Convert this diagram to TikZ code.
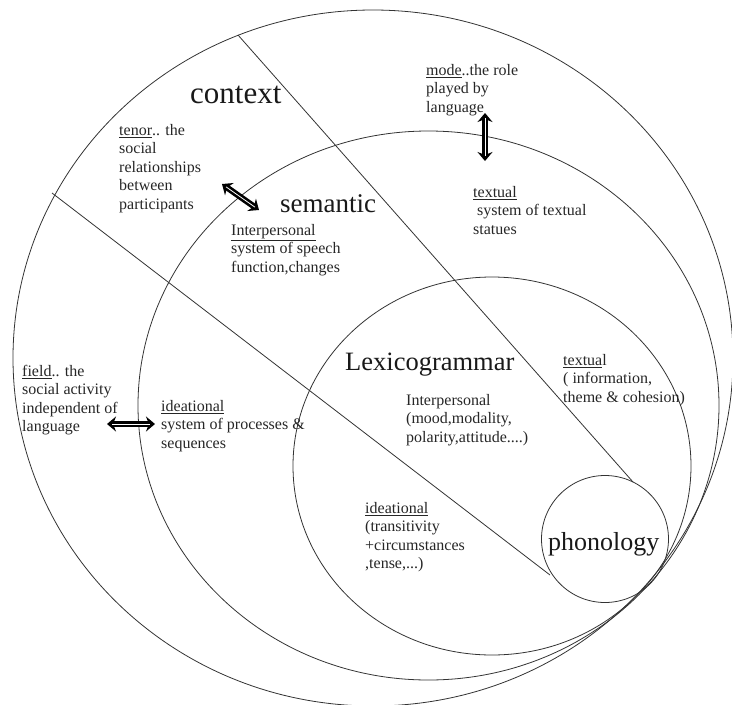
\documentclass[tikz,border=0pt]{standalone}
\usepackage{fontspec}
\setmainfont{Liberation Serif}
\usetikzlibrary{arrows.meta}
\begin{document}
\begin{tikzpicture}[x=1pt,y=-1pt,
  ring/.style={draw=black!80, line width=0.8pt},
  divider/.style={draw=black!80, line width=0.8pt},
  small/.style={font=\fontsize{16}{18.5}\selectfont, anchor=north west, align=left, inner sep=0pt, text=black!85},
  big/.style={anchor=base west, inner sep=0pt, text=black!90},
  dblarrow/.style={draw=black, line width=6pt, {Stealth[length=9pt,width=15pt]}-{Stealth[length=9pt,width=15pt]}},
  arrowcore/.style={draw=white, line width=0.8pt, shorten <=5pt, shorten >=5pt}]
\useasboundingbox (0,0) rectangle (732,705);

% rings
\draw[ring] (373,358) ellipse [x radius=360pt, y radius=348pt];
\draw[ring] (428.5,405.5) ellipse [x radius=290.5pt, y radius=274.5pt];
\draw[ring] (492,466) ellipse [x radius=199pt, y radius=189pt];
\node[ring, circle, minimum size=127pt, inner sep=0pt] (phon) at (605,539) {};

% dividers
\coordinate (d1a) at (238,35);
\coordinate (d1b) at (633,482);
\coordinate (d2a) at (52,193);
\coordinate (d2b) at (550,575);
\draw[divider] (d1a) -- (d1b);
\draw[divider] (d2a) -- (d2b);

% titles
\node[big, font=\fontsize{31}{34}\selectfont] (context) at (190,103) {context};
\node[big, font=\fontsize{27}{30}\selectfont] (semantic) at (280,212) {semantic};
\node[big, font=\fontsize{26.5}{30}\selectfont] (lexico) at (345,370) {Lexicogrammar};
\node[big, font=\fontsize{26}{30}\selectfont] (phontext) at (548,550) {phonology};

% context texts
\node[small] (tenor) at (119,124) {\underline{tenor}.. the\\social\\relationships\\between\\participants};
\node[small] (mode) at (426,64) {\underline{mode}..the role\\played by\\language};
\node[small] (field) at (22,365) {\underline{field}.. the\\social activity\\independent of\\language};

% semantic texts
\node[small] (seminter) at (231,224) {\underline{Interpersonal}\\system of speech\\function,changes};
\node[small] (semtext) at (473,186) {\underline{textual}\\\ system of textual\\statues};
\node[small] (semidea) at (161,400) {\underline{ideational}\\system of processes \&\\sequences};

% lexicogrammar texts
\node[small] (lexinter) at (406,394) {Interpersonal\\(mood,modality,\\polarity,attitude....)};
\node[small] (lextext) at (563,354) {\underline{textua}l\\( information,\\theme \& cohesion)};
\node[small] (lexidea) at (365,502) {\underline{ideational}\\(transitivity\\+circumstances\\,tense,...)};

% arrows
\coordinate (ta) at (222,184);
\coordinate (tb) at (259,210);
\coordinate (ma) at (485,113);
\coordinate (mb) at (485,161);
\coordinate (fa) at (107,424);
\coordinate (fb) at (155,424);
\draw[dblarrow] (ta) -- (tb);
\draw[arrowcore] (ta) -- (tb);
\draw[dblarrow] (ma) -- (mb);
\draw[arrowcore] (ma) -- (mb);
\draw[dblarrow] (fa) -- (fb);
\draw[arrowcore] (fa) -- (fb);
\end{tikzpicture}
\end{document}
